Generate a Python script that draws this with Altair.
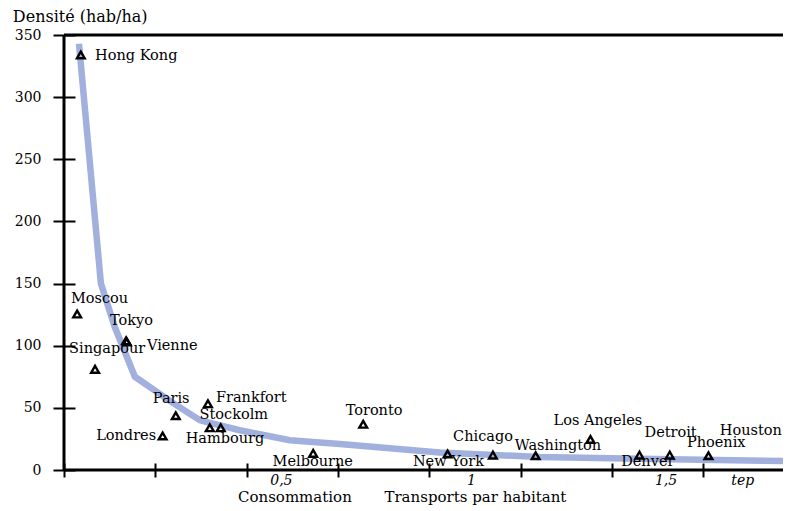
import altair as alt
import pandas as pd

# Cities: consumption (tep / inhabitant) and density (hab/ha)
cities = ["Hong Kong", "Moscou", "Tokyo", "Vienne", "Singapour", "Paris", "Frankfort",
          "Stockolm", "Hambourg", "Londres", "Melbourne", "Toronto", "New York", "Chicago",
          "Washington", "Los Angeles", "Denver", "Detroit", "Phoenix", "Houston"]
conso = [0.046, 0.036, 0.170, 0.172, 0.085, 0.306, 0.394, 0.399, 0.429, 0.270, 0.682,
         0.819, 1.050, 1.174, 1.291, 1.441, 1.575, 1.658, 1.764, 1.986]
densite = [334, 125.5, 104, 103, 81, 43.7, 53.3, 34, 34, 27.4, 13.4, 36.8, 12.9, 12,
           11.5, 24.6, 12, 12, 11.5, 10.5]

# Where each city name sits (left edge, vertical middle), in data units
label_x = [0.085, 0.019, 0.126, 0.227, 0.014, 0.243, 0.416, 0.371, 0.333, 0.088, 0.571,
           0.771, 0.955, 1.065, 1.234, 1.340, 1.525, 1.589, 1.705, 1.795]
label_y = [333, 137.6, 120, 100, 97, 57, 58, 44, 24.7, 27.4, 6.7, 47.7, 6.4, 26.8, 19,
           39.7, 6.7, 29.5, 21.5, 31.5]

# Fitted trend curve
curve_x = [0.041, 0.101, 0.139, 0.194, 0.298, 0.372, 0.481, 0.618, 0.755, 1.028, 1.302,
           1.575, 1.986]
curve_y = [343, 150, 115, 75, 54, 40, 32, 24, 21, 14, 10.5, 9, 7.2]

# Axis texts
tick_x = [0, 0.25, 0.5, 0.75, 1.0, 1.25, 1.5, 1.75]
tick_y = [0, 50, 100, 150, 200, 250, 300, 350]
xlab_text = ["0,5", "1", "1,5", "tep"]
xlab_x = [0.595, 1.115, 1.648, 1.858]
xlab_y = [-8.5, -8.5, -8.5, -8.5]
xtitle_text = ["Consommation", "Transports par habitant"]
xtitle_x = [0.632, 1.126]
xtitle_y = [-22, -22]
ytitle_text = ["Densité (hab/ha)"]
ytitle_x = [-0.14]
ytitle_y = [364.5]

FONT = "DejaVu Serif"

xs = alt.Scale(domain=[0, 1.968], nice=False, zero=False)
ys = alt.Scale(domain=[0, 350], nice=False)

df_pts = pd.DataFrame({"ville": cities, "conso": conso, "densite": densite})
df_lab = pd.DataFrame({"ville": cities, "lx": label_x, "ly": label_y})
df_curve = pd.DataFrame({"cx": curve_x, "cy": curve_y})
df_xlab = pd.DataFrame({"t": xlab_text, "x": xlab_x, "y": xlab_y})
df_xtitle = pd.DataFrame({"t": xtitle_text, "x": xtitle_x, "y": xtitle_y})
df_ytitle = pd.DataFrame({"t": ytitle_text, "x": ytitle_x, "y": ytitle_y})
df_h = pd.DataFrame({"y": [0, 350]})
df_v = pd.DataFrame({"x": [0]})

x_axis = alt.Axis(values=tick_x, labels=False, domain=False, grid=False, title=None,
                  tickSize=14, offset=-7, tickColor="black", tickWidth=2)
y_axis = alt.Axis(values=tick_y, domain=False, grid=False, title=None, tickSize=22,
                  offset=-11, tickColor="black", tickWidth=2, labelFont=FONT,
                  labelFontSize=14, labelColor="black", labelPadding=12)

curve = alt.Chart(df_curve).mark_line(color="#a2b0de", strokeWidth=6.5).encode(
    x=alt.X("cx:Q", scale=xs, axis=x_axis),
    y=alt.Y("cy:Q", scale=ys, axis=y_axis),
    order="cx:Q",
)

hrules = alt.Chart(df_h).mark_rule(color="black", strokeWidth=3).encode(
    y=alt.Y("y:Q", scale=ys)
)
vrules = alt.Chart(df_v).mark_rule(color="black", strokeWidth=3).encode(
    x=alt.X("x:Q", scale=xs)
)

points = alt.Chart(df_pts).mark_point(shape="triangle-up", filled=False, color="black",
                                      strokeWidth=2.4, size=60, opacity=1).encode(
    x=alt.X("conso:Q", scale=xs),
    y=alt.Y("densite:Q", scale=ys),
)

labels = alt.Chart(df_lab).mark_text(font=FONT, fontSize=14.5, align="left",
                                     baseline="middle", color="black").encode(
    x=alt.X("lx:Q", scale=xs),
    y=alt.Y("ly:Q", scale=ys),
    text="ville:N",
)

xlabs = alt.Chart(df_xlab).mark_text(font=FONT, fontSize=14, fontStyle="italic",
                                     align="center", baseline="middle", color="black").encode(
    x=alt.X("x:Q", scale=xs), y=alt.Y("y:Q", scale=ys), text="t:N"
)
xtitle = alt.Chart(df_xtitle).mark_text(font=FONT, fontSize=15, align="center",
                                        baseline="middle", color="black").encode(
    x=alt.X("x:Q", scale=xs), y=alt.Y("y:Q", scale=ys), text="t:N"
)
ytitle = alt.Chart(df_ytitle).mark_text(font=FONT, fontSize=16, align="left",
                                        baseline="middle", color="black").encode(
    x=alt.X("x:Q", scale=xs), y=alt.Y("y:Q", scale=ys), text="t:N"
)

chart = alt.layer(curve, hrules, vrules, points, labels, xlabs, xtitle, ytitle).properties(
    width=719,
    height=435,
    autosize=alt.AutoSizeParams(type="none"),
    padding={"left": 56, "top": 27, "right": 0, "bottom": 39},
    background="white",
).configure_view(stroke=None)

chart.save("out.html", embed_options={"renderer": "svg", "actions": False})
